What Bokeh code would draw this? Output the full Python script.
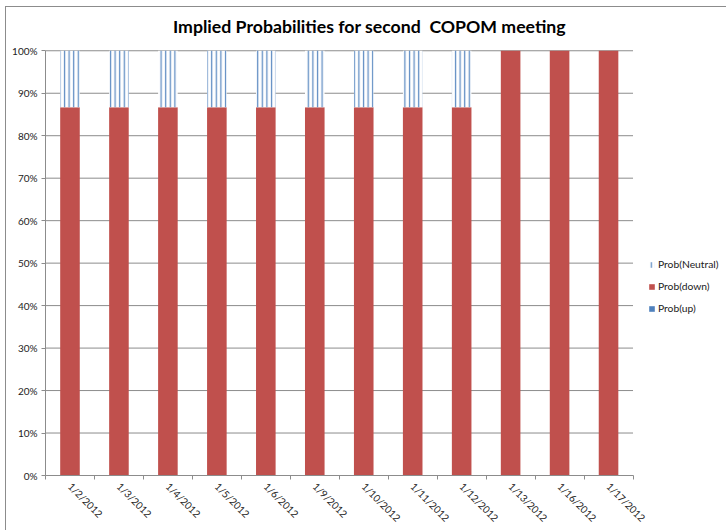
import math
from bokeh.plotting import figure
from bokeh.models import (ColumnDataSource, FixedTicker, NumeralTickFormatter, Legend, LegendItem,
                          Range1d, Label)
from bokeh.embed import file_html
from bokeh.resources import INLINE

dates = ["1/2/2012", "1/3/2012", "1/4/2012", "1/5/2012", "1/6/2012", "1/9/2012",
         "1/10/2012", "1/11/2012", "1/12/2012", "1/13/2012", "1/16/2012", "1/17/2012"]
prob_up = [0, 0, 0, 0, 0, 0, 0, 0, 0, 0, 0, 0]
prob_down = [0.867, 0.867, 0.867, 0.867, 0.867, 0.867, 0.867, 0.867, 0.867, 1.0, 1.0, 1.0]
prob_neutral = [0.133, 0.133, 0.133, 0.133, 0.133, 0.133, 0.133, 0.133, 0.133, 0.0, 0.0, 0.0]
series_names = ["Prob(up)", "Prob(down)", "Prob(Neutral)"]
y_ticks = [0, 0.1, 0.2, 0.3, 0.4, 0.5, 0.6, 0.7, 0.8, 0.9, 1.0]
title_text = "Implied Probabilities for second\u00a0 COPOM meeting"

n = len(dates)
xs = [i + 0.5 for i in range(n)]
source = ColumnDataSource(dict(x=xs, up=prob_up, down=prob_down, neutral=prob_neutral))

FONT = "Lato"
GRAY = "#8c8c8c"

W, H = 721, 524
LEFT, BOTTOM = 39, 48
PX_PER_CAT = 48.96
PLOT_H = 432          # pixels between 0% and 100%
FRAME_W = W - LEFT
FRAME_H = H - BOTTOM
x_end = FRAME_W / PX_PER_CAT
y_end = FRAME_H / PLOT_H

p = figure(width=W, height=H, output_backend="svg", toolbar_location=None,
           x_range=Range1d(0, x_end), y_range=Range1d(0, y_end),
           min_border_left=LEFT, min_border_right=0, min_border_top=0, min_border_bottom=BOTTOM,
           margin=(6, 0, 0, 5),
           styles={"border-top": "1px solid #8c8c8c", "border-left": "1px solid #8c8c8c"})

# title, centred over the whole chart box
p.add_layout(Label(x=324 / PX_PER_CAT, y=1 + 25 / PLOT_H, text=title_text,
                   text_font=FONT, text_font_size="17.7px", text_font_style="bold",
                   text_align="center", text_baseline="middle", text_color="#000000"))

# horizontal gridlines limited to the category span
p.segment(x0=[0] * len(y_ticks), x1=[n] * len(y_ticks), y0=y_ticks, y1=y_ticks,
          line_color=GRAY, line_width=1)

renderers = p.vbar_stack(["up", "down", "neutral"], x="x", width=0.4, source=source,
                         fill_color=["#4F81BD", "#C0504D", "white"],
                         line_color=None,
                         hatch_pattern=[" ", " ", "|"],
                         hatch_color="#4F81BD", hatch_scale=4.6, hatch_weight=1.3,
                         hatch_alpha=0.9)

legend = Legend(items=[LegendItem(label=series_names[2], renderers=[renderers[2]]),
                       LegendItem(label=series_names[1], renderers=[renderers[1]]),
                       LegendItem(label=series_names[0], renderers=[renderers[0]])],
                location=(603, 161), orientation="vertical")
legend.label_text_font = FONT
legend.label_text_font_size = "10.3px"
legend.label_text_color = "#222222"
legend.glyph_width = 7
legend.glyph_height = 7
legend.label_height = 10
legend.label_standoff = 3
legend.spacing = 10
legend.padding = 0
legend.margin = 0
legend.border_line_color = None
legend.background_fill_alpha = 0
p.add_layout(legend, "center")

# axes
p.xaxis.ticker = FixedTicker(ticks=xs, minor_ticks=list(range(n + 1)))
p.xaxis.bounds = (0, n)
p.xaxis.major_label_overrides = {x: d for x, d in zip(xs, dates)}
p.xaxis.major_label_orientation = -math.pi / 4
p.xaxis.major_tick_out = 0
p.xaxis.major_tick_in = 0
p.xaxis.minor_tick_out = 4
p.xaxis.minor_tick_in = 0
p.xaxis.minor_tick_line_color = GRAY
p.xaxis.axis_line_color = GRAY
p.xaxis.major_label_text_font = FONT
p.xaxis.major_label_text_font_size = "10px"
p.xaxis.major_label_text_color = "#222222"
p.xaxis.major_label_standoff = 5

p.yaxis.ticker = FixedTicker(ticks=y_ticks)
p.yaxis.bounds = (0, 1)
p.yaxis.formatter = NumeralTickFormatter(format="0%")
p.yaxis.major_tick_out = 4
p.yaxis.major_tick_in = 0
p.yaxis.minor_tick_line_color = None
p.yaxis.major_tick_line_color = GRAY
p.yaxis.axis_line_color = GRAY
p.yaxis.major_label_text_font = FONT
p.yaxis.major_label_text_font_size = "10px"
p.yaxis.major_label_text_color = "#222222"
p.yaxis.major_label_standoff = 4

p.xgrid.grid_line_color = None
p.ygrid.grid_line_color = None
p.outline_line_color = None

open("out.html", "w").write(file_html(p, INLINE))
